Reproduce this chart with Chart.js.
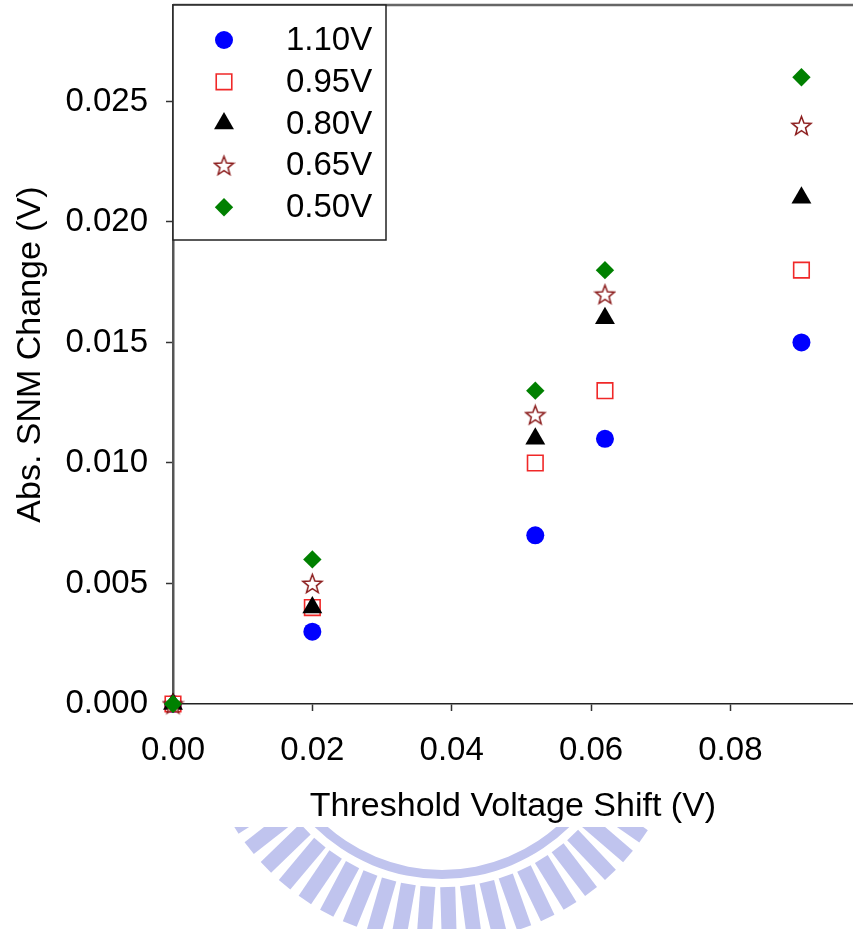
<!DOCTYPE html>
<html>
<head>
<meta charset="utf-8">
<title>Abs. SNM Change vs Threshold Voltage Shift</title>
<script src="https://cdn.jsdelivr.net/npm/chart.js@4.4.0/dist/chart.umd.min.js"></script>
<style>
    html, body { margin: 0; padding: 0; background: #ffffff; }
    #wrap { width: 853px; height: 929px; }
</style>
</head>
<body>
<div id="wrap"><canvas id="snmChart" width="853" height="929"></canvas></div>
<script>
// data
const shiftX = [0, 0.02, 0.052, 0.062, 0.0902];
const snm110 = [0, 0.003, 0.007, 0.011, 0.015];
const snm095 = [0, 0.004, 0.010, 0.013, 0.018];
const snm080 = [0, 0.004, 0.011, 0.016, 0.021];
const snm065 = [0, 0.005, 0.012, 0.017, 0.024];
const snm050 = [0, 0.006, 0.013, 0.018, 0.026];
const seriesLabels = ['1.10V', '0.95V', '0.80V', '0.65V', '0.50V'];
const xTicks = [0, 0.02, 0.04, 0.06, 0.08];
const yTicks = [0, 0.005, 0.010, 0.015, 0.020, 0.025];

const FONT = 'Liberation Sans, Arial, sans-serif';

// hollow five point star, chart.js 'star' is an asterisk so build our own
function makeStar(size, stroke) {
    const c = document.createElement('canvas');
    c.width = size;
    c.height = size;
    const g = c.getContext('2d');
    const cx = size / 2, cy = size / 2 + 1;
    const R = size / 2 - 1.5, r = R * 0.42;
    g.beginPath();
    for (let i = 0; i < 10; i++) {
        const a = -Math.PI / 2 + i * Math.PI / 5;
        const rr = i % 2 ? r : R;
        g.lineTo(cx + rr * Math.cos(a), cy + rr * Math.sin(a));
    }
    g.closePath();
    g.fillStyle = '#ffffff';
    g.fill();
    g.strokeStyle = stroke;
    g.lineWidth = 1.5;
    g.stroke();
    return c;
}

const starImg = makeStar(23, '#8b1c1c');

function points(ys) {
    return shiftX.map((x, i) => ({ x: x, y: ys[i] }));
}

const datasets = [
    { label: seriesLabels[0], data: points(snm110), pointStyle: 'circle', pointRadius: 9,
      backgroundColor: '#0000ff', borderColor: '#0000ff', borderWidth: 0, order: 5 },
    { label: seriesLabels[1], data: points(snm095), pointStyle: 'rect', pointRadius: 11,
      backgroundColor: '#ffffff', borderColor: '#f02828', borderWidth: 1.6, order: 4 },
    { label: seriesLabels[2], data: points(snm080), pointStyle: 'triangle', pointRadius: 11.5,
      backgroundColor: '#000000', borderColor: '#000000', borderWidth: 0, order: 3 },
    { label: seriesLabels[3], data: points(snm065), pointStyle: starImg, pointRadius: 10,
      backgroundColor: '#ffffff', borderColor: '#8b1c1c', borderWidth: 1.5, order: 2 },
    { label: seriesLabels[4], data: points(snm050), pointStyle: 'rectRot', pointRadius: 9.2,
      backgroundColor: '#008000', borderColor: '#008000', borderWidth: 0, order: 1 }
];
datasets.forEach(d => { d.showLine = false; d.clip = false; d.pointHoverRadius = d.pointRadius; });

// faint logo watermark at the bottom of the page
const watermark = {
    id: 'watermark',
    beforeDraw(chart) {
        const ctx = chart.ctx;
        const cx = 442, cy = 697;
        ctx.save();
        ctx.beginPath();
        ctx.rect(0, 827, chart.width, chart.height - 827);
        ctx.clip();
        ctx.fillStyle = '#c0c4ee';
        // thin ring
        ctx.beginPath();
        ctx.arc(cx, cy, 182, 0, Math.PI * 2);
        ctx.arc(cx, cy, 173, 0, Math.PI * 2, true);
        ctx.fill();
        // rays
        for (let k = -14; k <= 14; k++) {
            const phi = -0.074 + k * 0.104;
            ctx.save();
            ctx.translate(cx, cy);
            ctx.rotate(-phi);
            ctx.fillRect(-7.5, 190, 15, 55);
            ctx.restore();
        }
        ctx.restore();
    }
};

// frame line and boxed legend in the top left corner
const frameLegend = {
    id: 'frameLegend',
    afterDraw(chart) {
        const ctx = chart.ctx;
        const area = chart.chartArea;
        ctx.save();
        ctx.strokeStyle = '#666666';
        ctx.lineWidth = 2.5;
        ctx.beginPath();
        ctx.moveTo(area.left, area.top);
        ctx.lineTo(area.right, area.top);
        ctx.stroke();

        const bx = area.left, by = area.top, bw = 213, bh = 235;
        ctx.fillStyle = '#ffffff';
        ctx.fillRect(bx, by, bw, bh);
        ctx.strokeStyle = '#222222';
        ctx.lineWidth = 1.5;
        ctx.strokeRect(bx, by, bw, bh);

        ctx.font = '33px ' + FONT;
        ctx.textBaseline = 'middle';
        ctx.textAlign = 'left';
        chart.data.datasets.forEach((ds, i) => {
            const y = by + 35 + i * 41.8;
            ctx.fillStyle = ds.backgroundColor;
            ctx.strokeStyle = ds.borderColor;
            ctx.lineWidth = ds.borderWidth;
            Chart.helpers.drawPoint(ctx, {
                pointStyle: ds.pointStyle,
                radius: ds.pointRadius,
                rotation: 0,
                borderWidth: ds.borderWidth
            }, bx + 51, y);
            ctx.fillStyle = '#000000';
            ctx.fillText(ds.label, bx + 113, y + 1);
        });
        ctx.restore();
    }
};

const ctx = document.getElementById('snmChart').getContext('2d');
new Chart(ctx, {
    type: 'scatter',
    data: { datasets: datasets },
    options: {
        responsive: false,
        animation: false,
        layout: { autoPadding: false, padding: { top: 5, right: 0, bottom: 0, left: 0 } },
        plugins: {
            legend: { display: false },
            tooltip: { enabled: false }
        },
        scales: {
            x: {
                type: 'linear',
                min: 0,
                max: 0.0976,
                afterBuildTicks: s => { s.ticks = xTicks.map(v => ({ value: v })); },
                afterFit: s => { s.height = 225; s.paddingLeft = 0; s.paddingRight = 0; },
                ticks: {
                    callback: v => v.toFixed(2),
                    font: { family: FONT, size: 33 },
                    color: '#000000',
                    padding: 20,
                    maxRotation: 0
                },
                grid: { drawOnChartArea: false, drawTicks: true, tickLength: 7, tickColor: '#333333', tickWidth: 1.5 },
                border: { display: true, color: '#222222', width: 1.5 },
                title: {
                    display: true,
                    text: 'Threshold Voltage Shift (V)',
                    font: { family: FONT, size: 34 },
                    color: '#000000',
                    padding: { top: 0, bottom: 102 }
                }
            },
            y: {
                type: 'linear',
                min: 0,
                max: 0.029,
                afterBuildTicks: s => { s.ticks = yTicks.map(v => ({ value: v })); },
                afterFit: s => { s.width = 173; s.paddingTop = 0; s.paddingBottom = 0; },
                ticks: {
                    callback: v => v.toFixed(3),
                    font: { family: FONT, size: 33 },
                    color: '#000000',
                    padding: 18
                },
                grid: { drawOnChartArea: false, drawTicks: true, tickLength: 7, tickColor: '#333333', tickWidth: 1.5 },
                border: { display: true, color: '#555555', width: 2.5 },
                title: {
                    display: true,
                    text: 'Abs. SNM Change (V)',
                    font: { family: FONT, size: 34 },
                    color: '#000000',
                    padding: { top: 10, bottom: 0 }
                }
            }
        }
    },
    plugins: [watermark, frameLegend]
});
</script>
</body>
</html>
